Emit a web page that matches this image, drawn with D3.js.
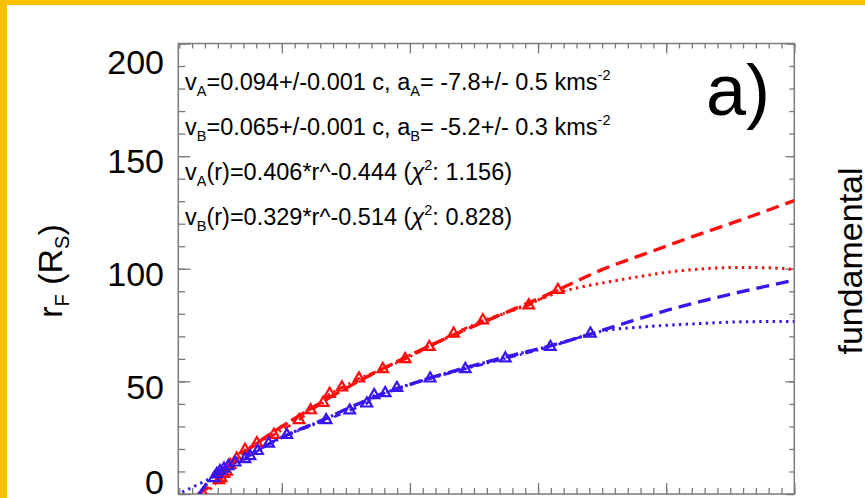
<!DOCTYPE html>
<html><head><meta charset="utf-8">
<script src="https://cdn.jsdelivr.net/npm/d3@7"></script>
<style>
body{margin:0;background:#fff;}
svg{display:block;font-family:"Liberation Sans",Arial,Helvetica,sans-serif;}
</style>
</head><body>
<svg id="c" width="865" height="498"></svg>
<script>
// ---------- data ----------
const xDomain = [1.92, 50];
const yDomain = [0, 200];
const yTickLabels = [0, 50, 100, 150, 200];
const xMajorTicks = [10, 20, 30, 40, 50];
const yMajorTicks = [0, 50, 100, 150, 200];

// series A (red) observed points
const redX = [5.10,5.26,5.49,5.70,5.96,6.48,7.13,8.05,9.38,11.35,12.25,13.23,13.73,14.69,16.02,17.88,19.63,21.51,23.41,25.69,29.27,31.55];
const redY = [6.2,7.1,8.9,9.9,12.9,15.8,19.6,22.6,26.3,32.8,37.2,40.5,44.5,47.3,51.3,55.5,59.9,65.3,71.2,77.1,83.8,90.6];
// series B (blue) observed points
const blueX = [4.71,4.92,5.18,5.49,5.83,6.35,7.13,7.52,8.11,8.97,10.39,13.46,15.30,16.64,17.21,18.07,18.98,21.58,24.32,27.45,30.96,34.09];
const blueY = [7.1,8.9,10.2,11.3,12.4,14.0,15.5,16.8,19.1,22.4,26.2,32.8,37.1,40.2,43.9,44.8,47.1,51.3,55.5,60.2,65.3,71.2];

// fit curves
const redDashX  = [3.46,4.63,5.96,8.30,11.43,15.34,19.24,23.15,27.05,31.51,34.87,38.77,42.68,46.59,50.0];
const redDashY  = [0,4.5,13.0,23.5,35.0,48.0,59.5,70.0,79.5,90.5,99.3,107.5,115.5,123.2,130.3];
const redDotX   = [4.01,4.79,5.96,8.30,11.43,15.34,19.24,23.15,27.05,30.18,31.51,33.30,35.65,38.00,40.33,42.68,45.80,48.15,50.0];
const redDotY   = [0,4.5,12.5,23.5,35.0,48.0,59.5,70.0,79.5,86.5,89.3,91.8,94.3,96.6,98.6,99.9,100.6,100.4,99.7];
const blueDashX = [3.55,4.24,4.87,5.80,7.13,8.30,10.41,13.46,15.34,18.07,21.58,24.32,27.45,30.96,34.09,34.87,40.10,45.26,50.0];
const blueDashY = [0,5.3,8.9,12.6,16.0,20.0,26.2,33.5,38.5,44.8,51.5,56.0,60.8,65.8,71.0,72.4,81.6,89.0,94.9];
const blueDotX  = [1.75,2.84,3.62,4.24,4.87,5.80,7.13,8.30,10.41,13.46,15.34,18.07,21.58,24.32,27.45,30.96,34.09,34.87,38.77,42.68,46.59,50.0];
const blueDotY  = [-0.5,2.5,4.7,6.4,8.9,12.6,16.0,20.0,26.2,33.5,38.5,44.8,51.5,56.0,60.8,65.8,71.0,72.2,74.4,75.7,76.5,76.6];

// ---------- chart ----------
const RED = "#ff0d0d", BLUE = "#3a16ee", FRAME = "#7a7a7a";
const svg = d3.select("#c");
const L = 178.3, R = 794.3, T = 43.5, B = 494;

// yellow frame of the slide
svg.append("rect").attr("x",0).attr("y",0).attr("width",865).attr("height",5).attr("fill","#f5c100");
svg.append("rect").attr("x",0).attr("y",0).attr("width",7).attr("height",498).attr("fill","#f5c100");

const x = d3.scaleLinear().domain(xDomain).range([L, R]);
const y = d3.scaleLinear().domain(yDomain).range([B, T]);
// label positions as placed on the slide (slightly irregular)
const yLab = d3.scaleLinear().domain(yTickLabels).range([481.7, 386.5, 274, 160.8, 61.7]);

svg.append("clipPath").attr("id","clip").append("rect")
  .attr("x",L).attr("y",T).attr("width",R-L).attr("height",B-T);

function styleAxis(g){
  g.select(".domain").remove();
  g.selectAll("line").attr("stroke",FRAME).attr("stroke-width",1.3);
  g.selectAll("text").remove();
}
const xMinor = d3.range(2, 51, 1);
const yMinor = d3.range(0, 201, 10);
// bottom
svg.append("g").attr("transform",`translate(0,${B})`).call(d3.axisBottom(x).tickValues(xMinor).tickSize(-6).tickFormat("")).call(styleAxis);
svg.append("g").attr("transform",`translate(0,${B})`).call(d3.axisBottom(x).tickValues(xMajorTicks).tickSize(-11).tickFormat("")).call(styleAxis);
// top
svg.append("g").attr("transform",`translate(0,${T})`).call(d3.axisTop(x).tickValues(xMinor).tickSize(-5).tickFormat("")).call(styleAxis);
svg.append("g").attr("transform",`translate(0,${T})`).call(d3.axisTop(x).tickValues(xMajorTicks).tickSize(-10).tickFormat("")).call(styleAxis);
// left
svg.append("g").attr("transform",`translate(${L},0)`).call(d3.axisLeft(y).tickValues(yMinor).tickSize(-7).tickFormat("")).call(styleAxis);
svg.append("g").attr("transform",`translate(${L},0)`).call(d3.axisLeft(y).tickValues(yMajorTicks).tickSize(-12).tickFormat("")).call(styleAxis);
// right
svg.append("g").attr("transform",`translate(${R},0)`).call(d3.axisRight(y).tickValues(yMinor).tickSize(-5).tickFormat("")).call(styleAxis);
svg.append("g").attr("transform",`translate(${R},0)`).call(d3.axisRight(y).tickValues(yMajorTicks).tickSize(-9).tickFormat("")).call(styleAxis);

// frame
svg.append("rect").attr("x",L).attr("y",T).attr("width",R-L).attr("height",B-T)
  .attr("fill","none").attr("stroke",FRAME).attr("stroke-width",1.5);

// y tick labels
const gl = svg.append("g").attr("transform","translate(164,0)")
  .call(d3.axisLeft(yLab).tickValues(yTickLabels).tickSize(0).tickPadding(0).tickFormat(d3.format("d")));
gl.select(".domain").remove();
gl.selectAll("text").attr("font-size",34).attr("font-family","'Liberation Sans',Arial,sans-serif")
  .attr("fill","#000").attr("dy","0.35em");

// lines
const plot = svg.append("g").attr("clip-path","url(#clip)");
const line = d3.line().x(d=>x(d[0])).y(d=>y(d[1])).curve(d3.curveMonotoneX);
const straight = d3.line().x(d=>x(d[0])).y(d=>y(d[1]));
const zip = (a,b)=>a.map((v,i)=>[v,b[i]]);

function drawLine(data, color, dash, w, gen){
  plot.append("path").datum(data).attr("d", gen||line).attr("fill","none")
    .attr("stroke",color).attr("stroke-width",w).attr("stroke-dasharray",dash);
}
drawLine(zip(redDotX,redDotY), RED, "2.4,4.3", 3);
drawLine(zip(redDashX,redDashY), RED, "13,7", 3.4);
drawLine(zip(blueDotX,blueDotY), BLUE, "2.4,4.3", 3);
drawLine(zip(blueDashX,blueDashY), BLUE, "13,7", 3.4);
drawLine(zip(redX,redY), RED, "7,4,2,4", 2.6, straight);
drawLine(zip(blueX,blueY), BLUE, "7,4,2,4", 2.6, straight);

const tri = d3.symbol().type(d3.symbolTriangle).size(48);
function drawPts(xs, ys, color){
  plot.append("g").selectAll("path").data(zip(xs,ys)).join("path")
    .attr("transform", d=>`translate(${x(d[0])},${y(d[1])})`)
    .attr("d", tri).attr("fill","none").attr("stroke",color).attr("stroke-width",2.2);
}
drawPts(redX, redY, RED);
drawPts(blueX, blueY, BLUE);

// annotation text
const FS = 23.5;
function richText(xp, yp, parts){
  const t = svg.append("text").attr("x",xp).attr("y",yp).attr("font-size",FS).attr("fill","#000");
  let shift = 0;
  parts.forEach(p=>{
    const s = t.append("tspan").text(p.t);
    let target = 0;
    if (p.k==="sub"){ s.attr("font-size",14.5); target = 6; }
    else if (p.k==="sup"){ s.attr("font-size",14.5); target = -10; }
    if (p.k==="it") s.attr("font-style","italic");
    s.attr("dy", target - shift); shift = target;
  });
  return t;
}
const lines = [
  [{t:"v"},{t:"A",k:"sub"},{t:"=0.094+/-0.001 c, a"},{t:"A",k:"sub"},{t:"= -7.8+/- 0.5 kms"},{t:"-2",k:"sup"}],
  [{t:"v"},{t:"B",k:"sub"},{t:"=0.065+/-0.001 c, a"},{t:"B",k:"sub"},{t:"= -5.2+/- 0.3 kms"},{t:"-2",k:"sup"}],
  [{t:"v"},{t:"A",k:"sub"},{t:"(r)=0.406*r^-0.444 ("},{t:"\u03C7",k:"it"},{t:"2",k:"sup"},{t:": 1.156)"}],
  [{t:"v"},{t:"B",k:"sub"},{t:"(r)=0.329*r^-0.514 ("},{t:"\u03C7",k:"it"},{t:"2",k:"sup"},{t:": 0.828)"}]
];
const baselines = [90, 135, 180, 225];
lines.forEach((p,i)=>richText(185, baselines[i], p));

svg.append("text").attr("x",706).attr("y",115).attr("font-size",72).attr("fill","#000").text("a)");

// axis title
const yt = svg.append("text").attr("transform","translate(62,271) rotate(-90)")
  .attr("text-anchor","middle").attr("font-size",34).attr("fill","#000");
yt.append("tspan").text("r");
yt.append("tspan").text("F").attr("font-size",20).attr("dy",7);
yt.append("tspan").text(" (R").attr("dy",-7);
yt.append("tspan").text("S").attr("font-size",20).attr("dy",7);
yt.append("tspan").text(")").attr("dy",-7);

svg.append("text").attr("transform","translate(862,261) rotate(-90)")
  .attr("text-anchor","middle").attr("font-size",34).attr("fill","#000").text("fundamental");
</script>
</body></html>
